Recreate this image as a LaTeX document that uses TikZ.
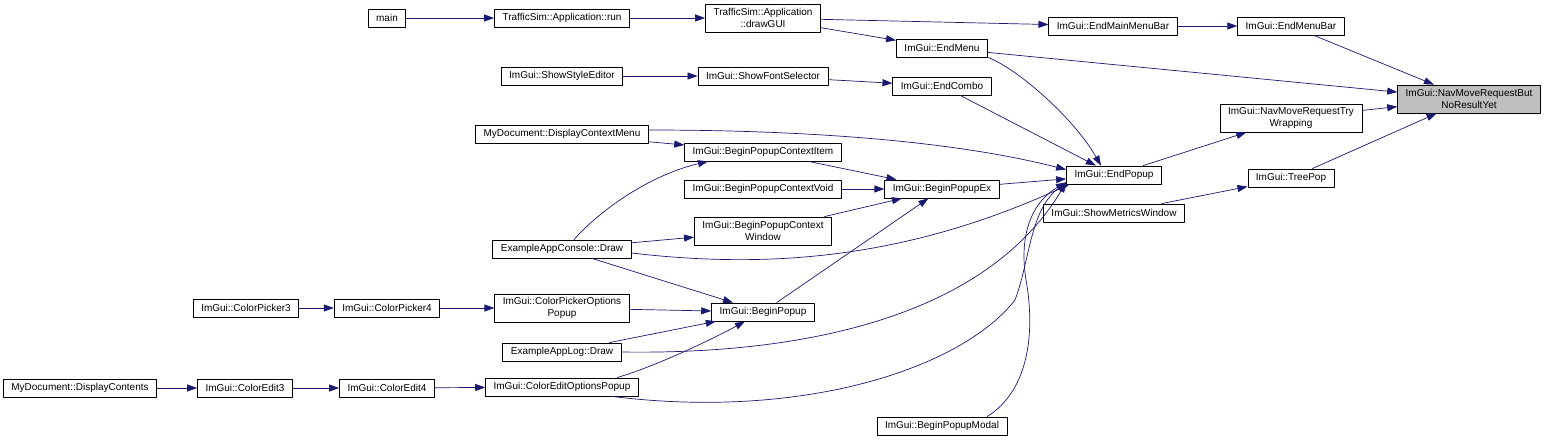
\documentclass[tikz,border=0pt]{standalone}
\usepackage{fontspec}
\setmainfont{Liberation Sans}
\usetikzlibrary{arrows.meta}
\definecolor{edgeblue}{RGB}{25,25,112}
\definecolor{hitgray}{RGB}{191,191,191}

\begin{document}
\begin{tikzpicture}[x=1pt,y=-1pt,>={Triangle[length=10pt,width=7pt]},line join=round,
  fn/.style={draw,fill=white,line width=0.8pt,inner xsep=8pt,inner ysep=2pt,minimum height=18pt,font=\fontsize{10}{12}\selectfont},
  fnn/.style={fn,align=center,minimum height=28pt},
  hit/.style={fnn,fill=hitgray},
  call/.style={->,edgeblue,line width=0.7pt}]
  \useasboundingbox (0,0) rectangle (1545,440);
  \node[fn] (main) at (387,18) {main};
  \node[fn] (appRun) at (562,18) {TrafficSim::Application::run};
  \node[fnn] (drawGUI) at (763,18) {TrafficSim::Application\\::drawGUI};
  \node[fn] (endMainMenuBar) at (1113,26) {ImGui::EndMainMenuBar};
  \node[fn] (endMenuBar) at (1291,26) {ImGui::EndMenuBar};
  \node[fn] (endMenu) at (942,48) {ImGui::EndMenu};
  \node[hit] (navMove) at (1469,99) {ImGui::NavMoveRequestBut\\NoResultYet};
  \node[fn] (showStyleEditor) at (562,76) {ImGui::ShowStyleEditor};
  \node[fn] (showFontSelector) at (763,76) {ImGui::ShowFontSelector};
  \node[fn] (endCombo) at (942,86) {ImGui::EndCombo};
  \node[fnn] (navMoveTry) at (1291,118) {ImGui::NavMoveRequestTry\\Wrapping};
  \node[fn] (dispCtxMenu) at (562,134) {MyDocument::DisplayContextMenu};
  \node[fn] (ctxItem) at (763,152) {ImGui::BeginPopupContextItem};
  \node[fn] (endPopup) at (1114,175) {ImGui::EndPopup};
  \node[fn] (treePop) at (1291,178) {ImGui::TreePop};
  \node[fn] (ctxVoid) at (763,189) {ImGui::BeginPopupContextVoid};
  \node[fn] (popupEx) at (942,189) {ImGui::BeginPopupEx};
  \node[fn] (showMetrics) at (1114,213) {ImGui::ShowMetricsWindow};
  \node[fnn] (ctxWindow) at (763,231) {ImGui::BeginPopupContext\\Window};
  \node[fn] (consoleDraw) at (562,249) {ExampleAppConsole::Draw};
  \node[fn] (picker3) at (246,308) {ImGui::ColorPicker3};
  \node[fn] (picker4) at (387,308) {ImGui::ColorPicker4};
  \node[fnn] (pickerOpts) at (562,308) {ImGui::ColorPickerOptions\\Popup};
  \node[fn] (beginPopup) at (763,312) {ImGui::BeginPopup};
  \node[fn] (logDraw) at (562,352) {ExampleAppLog::Draw};
  \node[fn] (dispContents) at (80,388) {MyDocument::DisplayContents};
  \node[fn] (edit3) at (245,388) {ImGui::ColorEdit3};
  \node[fn] (edit4) at (387,388) {ImGui::ColorEdit4};
  \node[fn] (editOpts) at (562,387) {ImGui::ColorEditOptionsPopup};
  \node[fn] (popupModal) at (942,426) {ImGui::BeginPopupModal};
  \draw[call] (main) -- (appRun);
  \draw[call] (appRun) -- (drawGUI);
  \draw[call] (drawGUI) -- (endMainMenuBar);
  \draw[call] (drawGUI) -- (endMenu);
  \draw[call] (endMainMenuBar) -- (endMenuBar);
  \draw[call] (endMenuBar) -- (navMove);
  \draw[call] (endMenu) -- (navMove);
  \draw[call] (endMenu.south east) .. controls (1020,70) and (1075,120) .. ([xshift=-13pt]endPopup.north);
  \draw[call] (showStyleEditor) -- (showFontSelector);
  \draw[call] (showFontSelector) -- (endCombo);
  \draw[call] (endCombo) -- (endPopup);
  \draw[call] (navMoveTry) -- (navMove);
  \draw[call] (treePop) -- (navMove);
  \draw[call] (endPopup) -- (navMoveTry);
  \draw[call] (showMetrics) -- (treePop);
  \draw[call] ([yshift=4pt]dispCtxMenu.east) .. controls (800,130) and (950,140) .. ([yshift=-4pt]endPopup.north west);
  \draw[call] (dispCtxMenu) -- (ctxItem);
  \draw[call] (ctxItem) -- (popupEx);
  \draw[call] (ctxVoid) -- (popupEx);
  \draw[call] (ctxWindow) -- (popupEx);
  \draw[call] (popupEx) -- (endPopup);
  \draw[call] ([xshift=12pt]consoleDraw.north) .. controls (600,210) and (650,175) .. ([xshift=-55pt]ctxItem.south);
  \draw[call] (consoleDraw) -- (ctxWindow);
  \draw[call] ([yshift=-4pt]consoleDraw.east) .. controls (760,268) and (900,262) .. ([xshift=3pt]endPopup.south west);
  \draw[call] (consoleDraw) -- (beginPopup);
  \draw[call] (beginPopup) -- (popupEx);
  \draw[call] (picker3) -- (picker4);
  \draw[call] (picker4) -- (pickerOpts);
  \draw[call] (pickerOpts) -- (beginPopup);
  \draw[call] (logDraw) -- (beginPopup);
  \draw[call] (logDraw.east) .. controls (820,355) and (990,310) .. ([yshift=2pt]endPopup.south west);
  \draw[call] (dispContents) -- (edit3);
  \draw[call] (edit3) -- (edit4);
  \draw[call] (edit4) -- (editOpts);
  \draw[call] ([xshift=55pt]editOpts.north) .. controls (660,365) and (720,335) .. ([xshift=-18pt]beginPopup.south);
  \draw[call] ([xshift=50pt]editOpts.south) .. controls (800,420) and (960,370) .. (1015,300) .. controls (1030,260) and (1030,210) .. ([yshift=2pt]endPopup.south west);
  \draw[call] ([xshift=45pt]popupModal.north) .. controls (1030,390) and (1035,330) .. (1026,280) .. controls (1018,230) and (1035,200) .. ([yshift=2pt]endPopup.south west);
\end{tikzpicture}
\end{document}
